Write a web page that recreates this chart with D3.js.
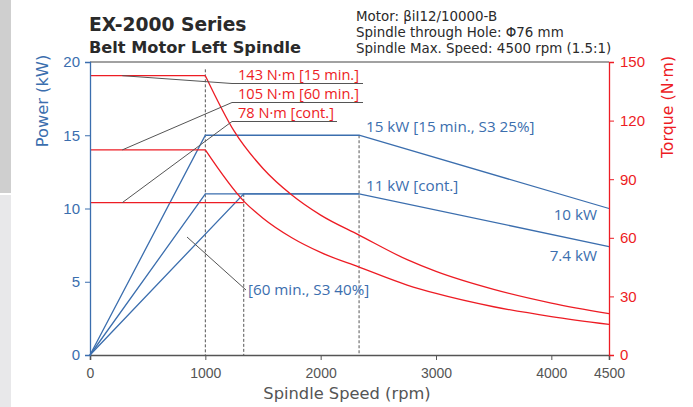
<!DOCTYPE html>
<html>
<head>
<meta charset="utf-8">
<script src="https://cdn.jsdelivr.net/npm/d3@7"></script>
<style>
body{margin:0;background:#fff;}
svg{display:block;font-family:Roboto,"Liberation Sans",sans-serif;}
.os{font-family:"Open Sans",sans-serif;}
.dv{font-family:"DejaVu Sans",sans-serif;}
</style>
</head>
<body>
<svg width="693" height="407"></svg>
<script>
// axis ticks
var rpmTicks = [0,1000,2000,3000,4000,4500];
var powerTicks = [0,5,10,15,20];
var torqueTicks = [0,30,60,90,120,150];

// power curves (kW)
var p15Rpm = [0,1000,2333,4500];
var p15 = [0,15,15,10];
var p60Rpm = [0,1000,2333,4500];
var p60 = [0,11,11,7.4];
var pContRpm = [0,1333,2333];
var pCont = [0,11,11];

// torque curves (N·m)
var t15Rpm = [0,1000,1250,1500,1750,2000,2333,2750,3000,3500,4000,4500];
var t15 = [143,143,114.6,95.5,81.9,71.6,61.4,48.8,42.8,33.6,26.6,21.2];
var t60Rpm = [0,1000,1333,1500,1750,2000,2333,2750,3000,3500,4000,4500];
var t60 = [105,105,78.8,70,60,52.5,45,35.8,31.5,24.7,19.7,15.7];
var tContRpm = [0,1333];
var tCont = [78,78];

// guide lines (rpm, kW top)
var guideRpm = [1000,1333,2333];
var guideTop = [19.5,11,15];

var blue = "#3b6eae", red = "#ed1c24", grey = "#555";

var svg = d3.select("svg");
var x = d3.scaleLinear().domain([0,4500]).range([90,609]);
var yP = d3.scaleLinear().domain([0,20]).range([355,62]);
var yT = d3.scaleLinear().domain([0,150]).range([355,62]);

// left screenshot strip
svg.append("rect").attr("x",0).attr("y",0).attr("width",11).attr("height",193).attr("fill","#cfcfcf");
svg.append("rect").attr("x",0).attr("y",195).attr("width",11).attr("height",212).attr("fill","#e8e8ea");

// top border
svg.append("line").attr("x1",90).attr("x2",609).attr("y1",62).attr("y2",62)
	.attr("stroke","#444").attr("stroke-width",1.2);

// guides
guideRpm.forEach(function(r,i){
	svg.append("line").attr("x1",x(r)).attr("x2",x(r)).attr("y1",yP(guideTop[i])).attr("y2",355)
		.attr("stroke",grey).attr("stroke-width",1).attr("stroke-dasharray","3,2");
});

function pts(a,b){ return a.map(function(v,i){ return [v,b[i]]; }); }
var lineP = d3.line().x(function(d){return x(d[0]);}).y(function(d){return yP(d[1]);});
var lineT = d3.line().x(function(d){return x(d[0]);}).y(function(d){return yT(d[1]);});
var curveT = d3.line().x(function(d){return x(d[0]);}).y(function(d){return yT(d[1]);}).curve(d3.curveMonotoneX);

// power lines
[pts(p15Rpm,p15),pts(p60Rpm,p60),pts(pContRpm,pCont)].forEach(function(d){
	svg.append("path").attr("d",lineP(d)).attr("fill","none").attr("stroke",blue).attr("stroke-width",1.3);
});

// torque lines
[pts(t15Rpm,t15),pts(t60Rpm,t60)].forEach(function(d){
	svg.append("path").attr("d",lineT(d.slice(0,2))).attr("fill","none").attr("stroke",red).attr("stroke-width",1.3);
	svg.append("path").attr("d",curveT(d.slice(1))).attr("fill","none").attr("stroke",red).attr("stroke-width",1.3);
});
svg.append("path").attr("d",lineT(pts(tContRpm,tCont))).attr("fill","none").attr("stroke",red).attr("stroke-width",1.3);

// axes
var gx = svg.append("g").attr("transform","translate(0,355)")
	.call(d3.axisBottom(x).tickValues(rpmTicks).tickSize(5).tickFormat(d3.format("d")));
gx.select(".domain").attr("stroke","#555").attr("stroke-width",1.6);
gx.selectAll(".tick line").attr("stroke","#555");
gx.selectAll("text").attr("fill","#555").attr("font-size",14).attr("dy","1.05em");

var gl = svg.append("g").attr("transform","translate(90,0)")
	.call(d3.axisLeft(yP).tickValues(powerTicks).tickSize(5));
gl.select(".domain").attr("stroke",blue).attr("stroke-width",1.3);
gl.selectAll(".tick line").attr("stroke",blue);
gl.selectAll("text").attr("fill",blue).attr("font-size",15).attr("x",-10);

var gr = svg.append("g").attr("transform","translate(609,0)")
	.call(d3.axisRight(yT).tickValues(torqueTicks).tickSize(5));
gr.select(".domain").attr("stroke",red).attr("stroke-width",1.3);
gr.selectAll(".tick line").attr("stroke",red);
gr.selectAll("text").attr("fill",red).attr("font-size",15).attr("x",11);

// axis titles
svg.append("text").attr("class","dv").attr("transform","translate(48,101) rotate(-90)").attr("text-anchor","middle")
	.attr("fill",blue).attr("font-size",16.3).text("Power (kW)");
svg.append("text").attr("class","dv").attr("transform","translate(673,107) rotate(-90)").attr("text-anchor","middle")
	.attr("fill",red).attr("font-size",15.8).text("Torque (N·m)");
svg.append("text").attr("class","dv").attr("x",347).attr("y",399).attr("text-anchor","middle")
	.attr("fill","#555").attr("font-size",16.3).text("Spindle Speed (rpm)");

// titles
svg.append("text").attr("class","dv").attr("x",89).attr("y",31).attr("font-size",18.7).attr("font-weight","bold")
	.attr("fill","#2a2a2a").text("EX-2000 Series");
svg.append("text").attr("class","dv").attr("x",89).attr("y",53).attr("font-size",16.2).attr("font-weight","bold")
	.attr("fill","#2a2a2a").text("Belt Motor Left Spindle");
["Motor: βiI12/10000-B","Spindle through Hole: Φ76 mm","Spindle Max. Speed: 4500 rpm (1.5:1)"].forEach(function(t,i){
	svg.append("text").attr("class","dv").attr("x",356).attr("y",21+i*16).attr("font-size",13.4).attr("fill","#2a2a2a").text(t);
});

// torque callouts
var tLabels = ["143 N·m [15 min.]","105 N·m [60 min.]","78 N·m [cont.]"];
var tAt = [143,105,78];
var lineEnd = [363,363,337];
var ulY = [83.5,102.5,121.5];
tLabels.forEach(function(t,i){
	svg.append("polyline").attr("points",[[x(280),yT(tAt[i])],[232,ulY[i]],[lineEnd[i],ulY[i]]].join(" "))
		.attr("fill","none").attr("stroke","#555").attr("stroke-width",1);
	svg.append("text").attr("class","os").attr("x",238).attr("y",ulY[i]-4).attr("font-size",14.6).attr("fill",red).text(t);
});

// power callouts
function blueLabel(px,py,anchor,t){
	svg.append("text").attr("class","os").attr("x",px).attr("y",py).attr("text-anchor",anchor)
		.attr("font-size",15.2).attr("fill",blue).text(t);
}
blueLabel(366,132,"start","15 kW [15 min., S3 25%]");
blueLabel(366,191,"start","11 kW [cont.]");
blueLabel(597,220,"end","10 kW");
blueLabel(597,261,"end","7.4 kW");
svg.append("line").attr("x1",187).attr("y1",237).attr("x2",246).attr("y2",290).attr("stroke","#555").attr("stroke-width",1);
blueLabel(248,295,"start","[60 min., S3 40%]");
</script>
</body>
</html>
